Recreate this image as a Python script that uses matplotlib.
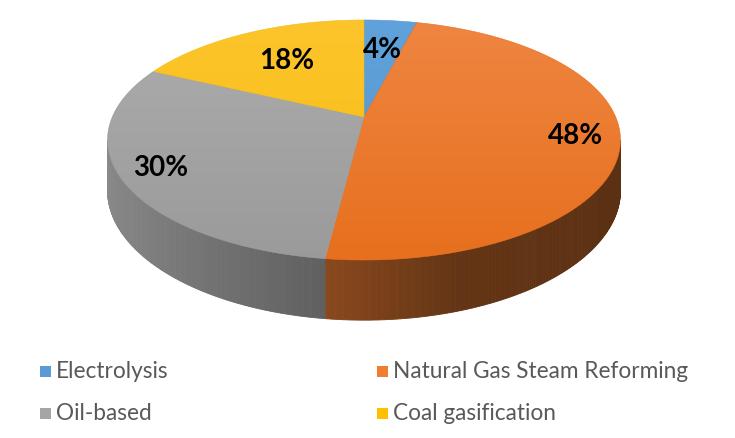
import numpy as np
import matplotlib
matplotlib.use("Agg")
import matplotlib.pyplot as plt
from matplotlib.patches import Polygon, Rectangle
from matplotlib.colors import to_rgb

labels = ["Electrolysis", "Natural Gas Steam Reforming", "Oil-based", "Coal gasification"]
shares = [4, 48, 30, 18]
pct_text = ["4%", "48%", "30%", "18%"]

colors = ["#5B9BD5", "#ED7D31", "#A5A5A5", "#FFC000"]
top_light = ["#60A2DB", "#EF8642", "#ADADAD", "#FDC52C"]
top_dark = ["#5494CD", "#E76F1D", "#9A9A9A", "#F4BC10"]
label_r = [0.66, 0.83, 0.85, 0.63]

# projection of the tilted disc (pixel units)
CX, CY, A, B, K, H = 364, 117, 251.7, 115.6, 0.1917, 48.6


def proj(theta, r=1.0):
    t = np.radians(theta)
    u = r * np.sin(t)
    v = r * np.cos(t)
    s = 1.0 / (1.0 + K * v)
    return CX + A * u * s, CY - B * v * s, s


def shade(u):
    return np.interp(u, [-1, -0.1, 0.3, 1], [0.84, 0.57, 0.42, 0.38])


fig = plt.figure(figsize=(7.35, 4.38), dpi=100)
ax = fig.add_axes([0, 0, 1, 1])

total = float(sum(shares))
bounds = np.concatenate([[0], np.cumsum(shares)]) / total * 360.0
front0 = 90 + np.degrees(np.arcsin(K))
front1 = 270 - np.degrees(np.arcsin(K))

# side walls
for i in range(len(shares)):
    a0, a1 = max(bounds[i], front0), min(bounds[i + 1], front1)
    if a1 <= a0:
        continue
    ts = np.linspace(a0, a1, int((a1 - a0) * 2) + 2)
    base = np.array(to_rgb(colors[i]))
    for t0, t1 in zip(ts[:-1], ts[1:]):
        x0, y0, s0 = proj(t0)
        x1, y1, s1 = proj(t1)
        c = np.clip(base * shade(np.sin(np.radians((t0 + t1) / 2))), 0, 1)
        ax.add_patch(Polygon([(x0, y0), (x1, y1), (x1, y1 + H * s1), (x0, y0 + H * s0)],
                             closed=True, facecolor=c, edgecolor=c, lw=0.6))

# top faces with a soft vertical gradient
ext = (CX - A * 1.05, CX + A * 1.05, 265, 15)
for i in range(len(shares)):
    ts = np.linspace(bounds[i], bounds[i + 1], max(int(shares[i] * 8), 10))
    xs, ys, _ = proj(ts)
    pts = [(CX, CY)] + list(zip(xs, ys))
    poly = Polygon(pts, closed=True, facecolor="none", edgecolor="none")
    ax.add_patch(poly)
    c0 = np.array(to_rgb(top_light[i]))
    c1 = np.array(to_rgb(top_dark[i]))
    w = np.linspace(0, 1, 200)[:, None]
    img = (c0 * (1 - w) + c1 * w)[:, None, :] * np.ones((1, 2, 1))
    im = ax.imshow(img, extent=ext, aspect="auto", interpolation="bilinear", zorder=2)
    im.set_clip_path(poly)
    edge = Polygon(pts, closed=True, facecolor="none", edgecolor=top_dark[i], lw=0.4, zorder=2)
    ax.add_patch(edge)

# data labels
for i in range(len(shares)):
    mid = (bounds[i] + bounds[i + 1]) / 2
    lx, ly, _ = proj(mid, label_r[i])
    ax.text(lx, ly, pct_text[i], ha="center", va="center", fontsize=20,
            fontweight="bold", family="Lato", color="black", zorder=5)

# legend
leg_x = [40, 377]
leg_y = [371, 413]
for i, lab in enumerate(labels):
    x = leg_x[i % 2]
    y = leg_y[i // 2]
    ax.add_patch(Rectangle((x, y - 5.5), 11, 11, facecolor=colors[i], edgecolor="none"))
    ax.text(x + 16, y, lab, ha="left", va="center", fontsize=16.3,
            family="Lato", color="#595959")

ax.set_xlim(0, 735)
ax.set_ylim(438, 0)
ax.axis("off")
fig.savefig("out.png", dpi=100)
